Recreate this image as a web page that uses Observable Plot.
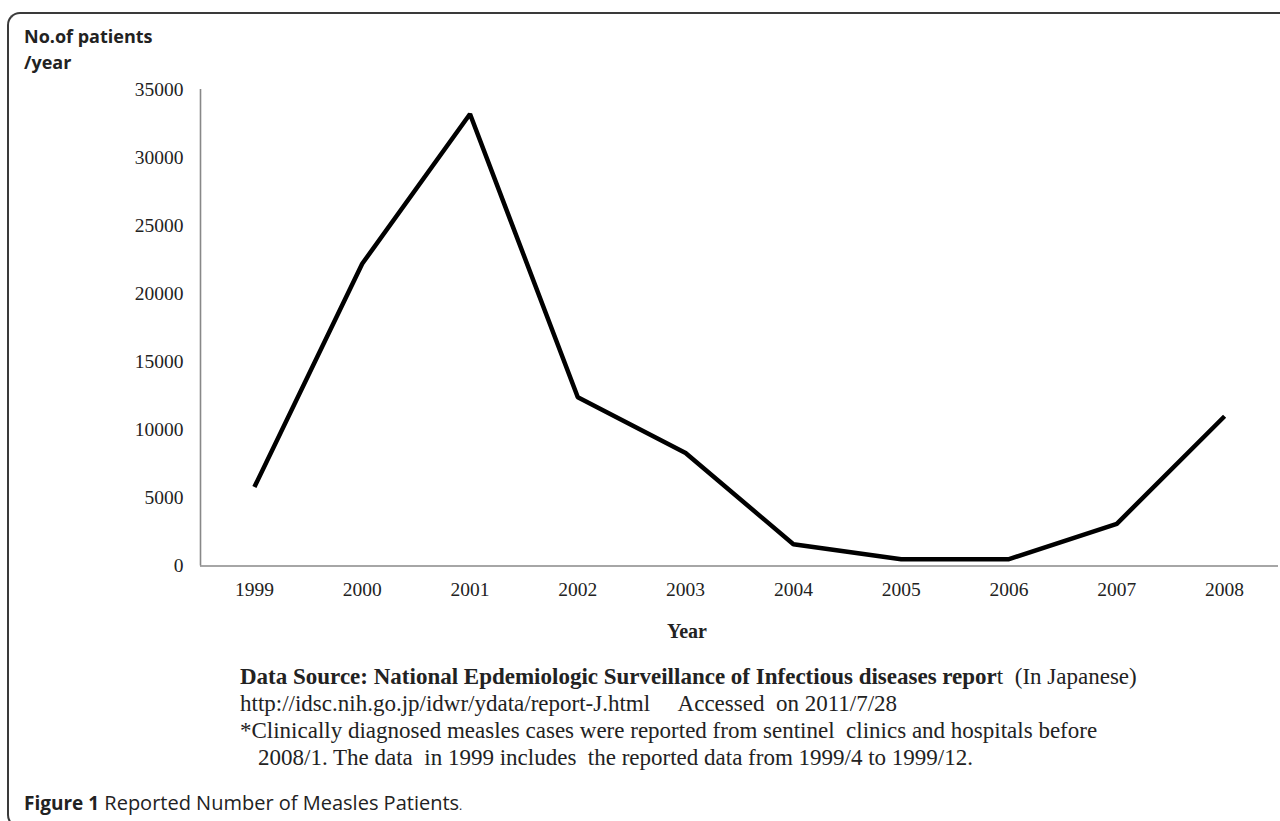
<!DOCTYPE html>
<html>
<head>
<meta charset="utf-8">
<script src="https://cdn.jsdelivr.net/npm/d3@7"></script>
<script src="https://cdn.jsdelivr.net/npm/@observablehq/plot@0.6"></script>
<style>
  html, body { margin: 0; padding: 0; background: #fff; overflow: hidden; }
  #wrap { position: relative; width: 1280px; height: 821px; overflow: hidden; background: #fff; }
  #frame { position: absolute; left: 7px; top: 12px; width: 1320px; height: 816px;
           border-top: 2px solid #3a3a3a; border-left: 2px solid #3a3a3a; border-bottom: 2px solid #3a3a3a;
           border-right: none; border-top-left-radius: 13px; border-bottom-left-radius: 13px; box-sizing: border-box; }
  #chart { position: absolute; left: 0; top: 0; }
  #ytitle { position: absolute; left: 24px; top: 23px; font: bold 18px "Open Sans", sans-serif;
            line-height: 26px; color: #222; white-space: pre; }
  #xtitle { position: absolute; left: 667px; top: 620px; font: bold 20px "Liberation Serif", serif; color: #222; }
  #note { position: absolute; left: 240px; top: 663px; font: 23px "Liberation Serif", serif;
          line-height: 27px; color: #222; white-space: pre; }
  #note .ind { padding-left: 18px; }
  #fig { position: absolute; left: 24px; top: 789px; font: 20px "Open Sans", sans-serif; color: #222; line-height: 28px; }
  #fig b { font-weight: bold; font-size: 19px; }
  #fig .dot { font-size: 12px; }
</style>
</head>
<body>
<div id="wrap">
  <div id="frame"></div>
  <div id="chart"></div>
  <div id="ytitle">No.of patients
/year</div>
  <div id="xtitle">Year</div>
  <div id="note"><div><b>Data Source: National Epdemiologic Surveillance of Infectious diseases repor</b>t  (In Japanese)</div><div>http://idsc.nih.go.jp/idwr/ydata/report-J.html     Accessed  on 2011/7/28</div><div>*Clinically diagnosed measles cases were reported from sentinel  clinics and hospitals before</div><div class="ind">2008/1. The data  in 1999 includes  the reported data from 1999/4 to 1999/12.</div></div>
  <div id="fig"><b>Figure 1</b> Reported Number of Measles Patients<span class="dot">.</span></div>
</div>
<script>
const years = [1999, 2000, 2001, 2002, 2003, 2004, 2005, 2006, 2007, 2008];
const patients = [5800, 22200, 33200, 12400, 8300, 1600, 500, 500, 3100, 11000];
const yTicks = [0, 5000, 10000, 15000, 20000, 25000, 30000, 35000];

const data = years.map((year, i) => ({year, patients: patients[i]}));

const chart = Plot.plot({
  width: 1280,
  height: 600,
  marginLeft: 200,
  marginRight: 2,
  marginTop: 89,
  marginBottom: 34.5,
  style: {fontFamily: "'Liberation Serif', serif", fontSize: "19.5px", color: "#222", background: "transparent", overflow: "visible"},
  x: {domain: [1998.5, 2008.5]},
  y: {domain: [0, 35000]},
  marks: [
    Plot.axisX(years, {tickSize: 0, tickPadding: 16, tickFormat: d => String(d), label: null}),
    Plot.axisY(yTicks, {tickSize: 0, tickPadding: 17, tickFormat: d => String(d), label: null}),
    Plot.ruleX([1998.5], {stroke: "#888", strokeWidth: 1.6}),
    Plot.ruleY([0], {stroke: "#888", strokeWidth: 1.6}),
    Plot.line(data, {x: "year", y: "patients", stroke: "#000", strokeWidth: 4.5, strokeLinejoin: "miter", strokeLinecap: "butt"})
  ]
});
document.getElementById("chart").appendChild(chart);
</script>
</body>
</html>
